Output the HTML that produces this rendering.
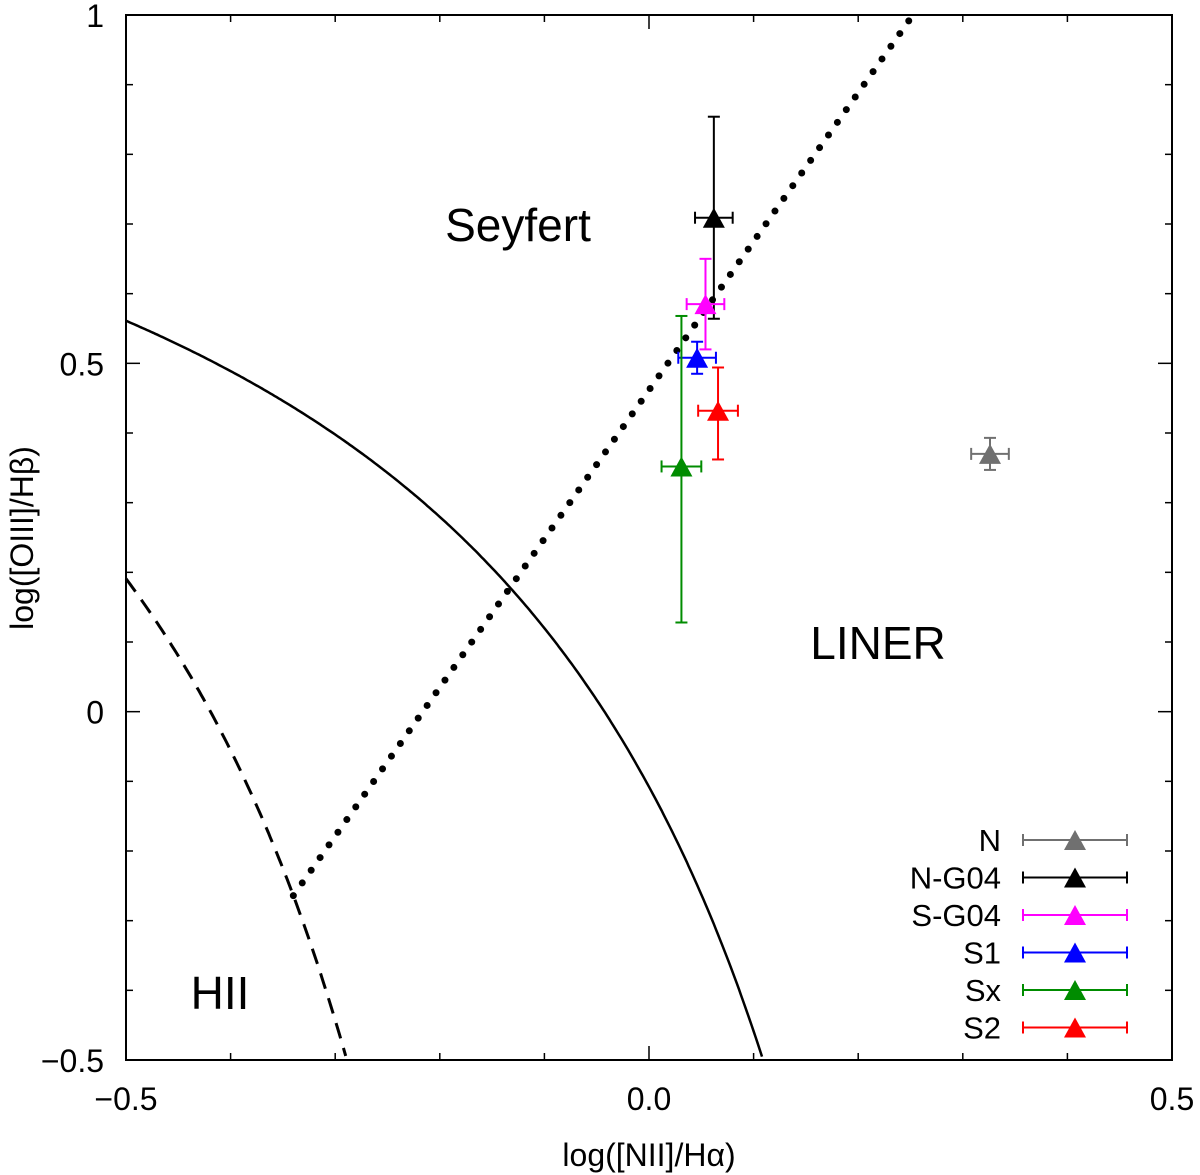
<!DOCTYPE html>
<html><head><meta charset="utf-8"><style>
body{margin:0;background:#fff}
svg{display:block;font-family:"Liberation Sans",sans-serif}
</style></head><body>
<svg id="c" width="1200" height="1175"></svg>
<script>
const names=["N","N-G04","S-G04","S1","Sx","S2"];
const colors=["#707070","#000000","#ff00ff","#0000ff","#008c00","#ff0000"];
const xs=[0.326,0.062,0.054,0.046,0.031,0.066];
const ys=[0.370,0.709,0.585,0.508,0.352,0.432];
const xerrs=[0.018,0.018,0.018,0.018,0.019,0.019];
const yerrsUp=[0.023,0.145,0.065,0.023,0.216,0.062];
const yerrsDn=[0.023,0.145,0.065,0.023,0.224,0.07];
const xTicks=[-0.5,0,0.5];const xTickLabels=["−0.5","0.0","0.5"];
const yTicks=[-0.5,0,0.5,1];const yTickLabels=["−0.5","0","0.5","1"];
const L=126,R=1172,T=15,B=1060;
const X=v=>L+(v+0.5)*(R-L);
const Y=v=>B-(v+0.5)/1.5*(B-T);
const svg=document.getElementById('c');const NS="http://www.w3.org/2000/svg";
function el(t,a,p){const e=document.createElementNS(NS,t);for(const k in a)e.setAttribute(k,a[k]);(p||svg).appendChild(e);return e;}
function curvePath(f,x0,x1){let d="";let first=true;for(let x=x0;x<=x1;x+=0.002){const y=f(x);if(y<-0.5||y>1){continue;}d+=(first?"M":"L")+X(x).toFixed(1)+","+Y(y).toFixed(1);first=false;}return d;}
const kew=x=>0.61/(x-0.47)+1.19, kau=x=>0.61/(x-0.05)+1.3, sey=x=>2.1*x+0.45;
let xi=-0.4;for(let i=0;i<60;i++){const f=sey(xi)-kau(xi);const df=2.1+0.61/((xi-0.05)**2);xi-=f/df;}
const p1=el('path',{d:curvePath(kew,-0.5,0.3),fill:'none',stroke:'#000','stroke-width':2.5});


const p2=el('path',{d:curvePath(kau,-0.5,0.0),fill:'none',stroke:'#000','stroke-width':3,'stroke-dasharray':'16,10'});


const p3=el('line',{x1:X(xi),y1:Y(sey(xi)),x2:X(0.25),y2:Y(sey(0.25))-14,stroke:'#000','stroke-width':7,'stroke-linecap':'round','stroke-dasharray':'0,15.5'});


const fr=el('rect',{x:L,y:T,width:R-L,height:B-T,fill:'none',stroke:'#000','stroke-width':2});


for(let i=0;i<=10;i++){const v=-0.5+i*0.1;const len=(Math.abs(v*2-Math.round(v*2))<1e-6)?14:7;
 el('line',{x1:X(v),x2:X(v),y1:B,y2:B-len,stroke:'#000','stroke-width':1.5});
 el('line',{x1:X(v),x2:X(v),y1:T,y2:T+len,stroke:'#000','stroke-width':1.5});}
for(let i=0;i<=15;i++){const v=-0.5+i*0.1;const len=(Math.abs(v*2-Math.round(v*2))<1e-6)?14:7;
 el('line',{y1:Y(v),y2:Y(v),x1:L,x2:L+len,stroke:'#000','stroke-width':1.5});
 el('line',{y1:Y(v),y2:Y(v),x1:R,x2:R-len,stroke:'#000','stroke-width':1.5});}
xTicks.forEach((v,i)=>{const t=el('text',{x:X(v),y:1110,'font-size':32,'text-anchor':'middle'});t.textContent=xTickLabels[i];

});
yTicks.forEach((v,i)=>{const t=el('text',{x:104,y:Y(v)+12,'font-size':32,'text-anchor':'end'});t.textContent=yTickLabels[i];

});
const xt=el('text',{x:649,y:1166,'font-size':32,'text-anchor':'middle'});xt.textContent="log([NII]/Hα)";


const yt=el('text',{x:0,y:0,'font-size':32,'text-anchor':'middle',transform:'translate(33,538) rotate(-90)'});yt.textContent="log([OIII]/Hβ)";


[["Seyfert",518,241],["LINER",878,659],["HII",220,1009]].forEach(r=>{const t=el('text',{x:r[1],y:r[2],'font-size':46,'text-anchor':'middle'});t.textContent=r[0];

});
function tri(cx,cy,c){return el('polygon',{points:`${cx},${cy-12} ${cx-11},${cy+8} ${cx+11},${cy+8}`,fill:c});}
names.forEach((n,i)=>{const c=colors[i];const gg=el('g',{});
 
 
 const cx=X(xs[i]),cy=Y(ys[i]),x0=X(xs[i]-xerrs[i]),x1=X(xs[i]+xerrs[i]),y0=Y(ys[i]+yerrsUp[i]),y1=Y(ys[i]-yerrsDn[i]);
 const s={stroke:c,'stroke-width':2};
 el('line',Object.assign({x1:x0,x2:x1,y1:cy,y2:cy},s),gg);
 el('line',Object.assign({x1:x0,x2:x0,y1:cy-6,y2:cy+6},s),gg);
 el('line',Object.assign({x1:x1,x2:x1,y1:cy-6,y2:cy+6},s),gg);
 el('line',Object.assign({x1:cx,x2:cx,y1:y0,y2:y1},s),gg);
 el('line',Object.assign({x1:cx-6,x2:cx+6,y1:y0,y2:y0},s),gg);
 el('line',Object.assign({x1:cx-6,x2:cx+6,y1:y1,y2:y1},s),gg);
 gg.appendChild(tri(cx,cy+2,c));
 const ly=840+i*37.5;const lg=el('g',{});
 
 
 const t=el('text',{x:1001,y:ly+11,'font-size':31,'text-anchor':'end'},lg);t.textContent=n;
 el('line',Object.assign({x1:1023,x2:1127,y1:ly,y2:ly},s),lg);
 el('line',Object.assign({x1:1023,x2:1023,y1:ly-6,y2:ly+6},s),lg);
 el('line',Object.assign({x1:1127,x2:1127,y1:ly-6,y2:ly+6},s),lg);
 lg.appendChild(tri(1075,ly+2,c));
});
</script>
</body></html>
